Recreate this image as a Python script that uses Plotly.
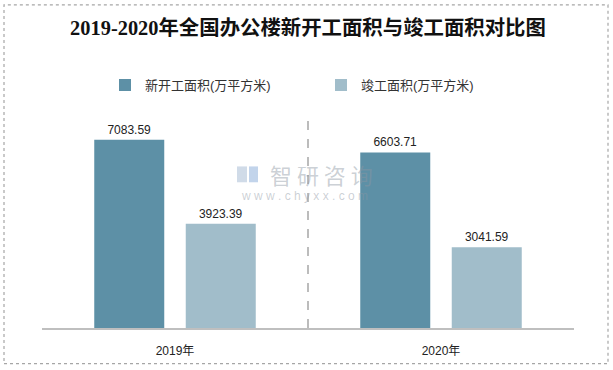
import plotly.graph_objects as go

categories = ["2019年", "2020年"]
new_start = [7083.59, 6603.71]
completed = [3923.39, 3041.59]
series_names = ["新开工面积(万平方米)", "竣工面积(万平方米)"]
title_text = "2019-2020年全国办公楼新开工面积与竣工面积对比图"

W, H = 613, 370
L, R, T, B = 42, 39, 100, 40
pw, ph = W - L - R, H - T - B

def px_x(x):
    return (x - L) / pw

def px_y(y):
    return (H - B - y) / ph

font_cjk = "Liberation Sans, Noto Sans CJK SC, sans-serif"

fig = go.Figure()
fig.add_trace(go.Bar(
    x=categories, y=new_start, name=series_names[0],
    marker=dict(color="#5d90a6", line=dict(width=0)),
    text=[f"{v:.2f}" for v in new_start], textposition="outside",
    textfont=dict(size=12, color="#222", family=font_cjk),
    cliponaxis=False, legend="legend",
))
fig.add_trace(go.Bar(
    x=categories, y=completed, name=series_names[1],
    marker=dict(color="#a1bdca", line=dict(width=0)),
    text=[f"{v:.2f}" for v in completed], textposition="outside",
    textfont=dict(size=12, color="#222", family=font_cjk),
    cliponaxis=False, legend="legend2",
))

wm = "rgba(140,150,162,0.45)"
fig.update_layout(
    width=W, height=H,
    margin=dict(l=L, r=R, t=T, b=B),
    paper_bgcolor="white", plot_bgcolor="white",
    barmode="group", bargap=0.312, bargroupgap=0.235,
    title=dict(text=title_text, x=px_x(308) * pw / W + L / W, xanchor="center", y=1 - 28 / H, yanchor="middle",
               xref="paper" if False else "container",
               font=dict(size=20.4, color="#111", family="Liberation Serif, Noto Sans CJK SC, serif", weight="bold")),
    font=dict(family=font_cjk, size=12, color="#222"),
    showlegend=True,
    legend=dict(orientation="h", x=px_x(105), y=px_y(85), xanchor="left", yanchor="middle",
                font=dict(size=13, color="#333", family=font_cjk), bgcolor="rgba(0,0,0,0)",
                itemwidth=30),
    legend2=dict(orientation="h", x=px_x(321), y=px_y(85), xanchor="left", yanchor="middle",
                 font=dict(size=13, color="#333", family=font_cjk), bgcolor="rgba(0,0,0,0)",
                 itemwidth=30),
    xaxis=dict(showline=True, linecolor="#bfbfbf", linewidth=1.5, ticks="",
               tickfont=dict(size=12, color="#222"), showgrid=False, ticklabelstandoff=11),
    yaxis=dict(visible=False, range=[0, 8575], showgrid=False),
    shapes=[
        dict(type="rect", xref="paper", yref="paper",
             x0=px_x(4), x1=px_x(608), y0=px_y(366), y1=px_y(4),
             line=dict(color="#a6a6a6", width=1.2, dash="dot"), layer="below"),
        dict(type="line", xref="paper", yref="paper",
             x0=0.5, x1=0.5, y0=0, y1=px_y(114),
             line=dict(color="#a6a6a6", width=1.5, dash="dash")),
        dict(type="rect", xref="paper", yref="paper",
             x0=px_x(237), x1=px_x(247), y0=px_y(183), y1=px_y(167),
             line=dict(width=0), fillcolor="rgba(150,175,205,0.45)"),
        dict(type="rect", xref="paper", yref="paper",
             x0=px_x(249), x1=px_x(258), y0=px_y(183), y1=px_y(167),
             line=dict(width=0), fillcolor="rgba(120,160,210,0.45)"),
    ],
    annotations=[
        dict(text="智 研 咨 询", xref="paper", yref="paper", x=px_x(321), y=px_y(175),
             showarrow=False, font=dict(size=22, color=wm, family="Noto Sans CJK SC"),
             xanchor="center", yanchor="middle"),
        dict(text="w w w . c h y x x . c o m", xref="paper", yref="paper", x=px_x(304), y=px_y(197),
             showarrow=False, font=dict(size=12, color=wm, family="Liberation Sans"),
             xanchor="center", yanchor="middle"),
    ],
)

fig.write_html("out.html", post_script="document.body.style.margin='0';",
               config={"displayModeBar": False})
